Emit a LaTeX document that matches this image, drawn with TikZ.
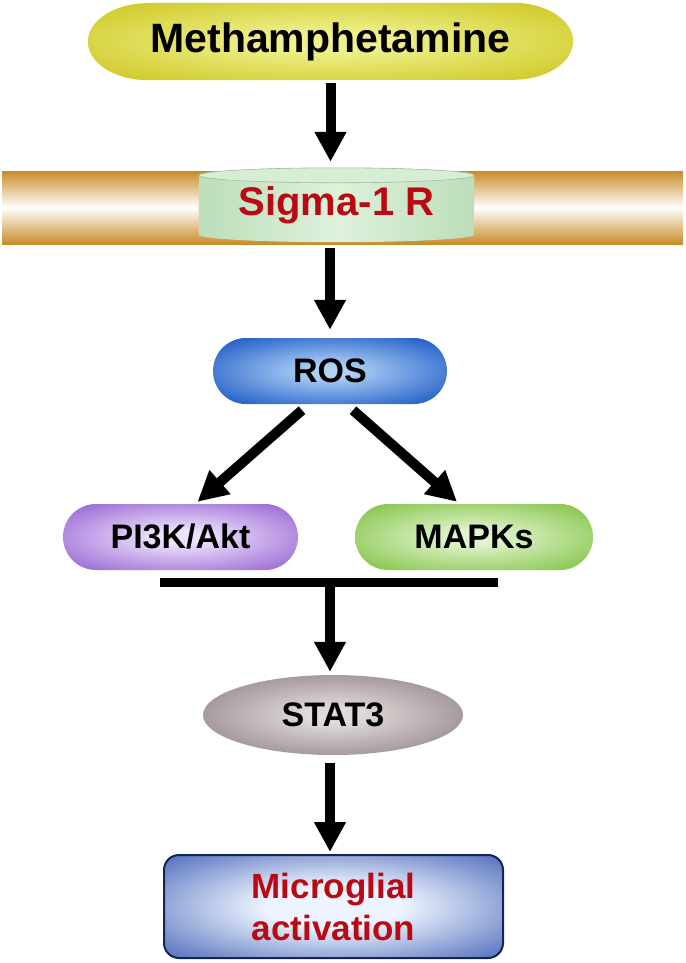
\documentclass[tikz,border=0pt]{standalone}
\usepackage{fontspec}
\setmainfont{Liberation Sans}
\usetikzlibrary{arrows.meta,shapes.geometric}

\definecolor{methin}{RGB}{240,240,140}
\definecolor{methout}{RGB}{205,200,35}
\definecolor{rosin}{RGB}{175,210,245}
\definecolor{rosout}{RGB}{35,95,200}
\definecolor{pikin}{RGB}{238,226,252}
\definecolor{pikout}{RGB}{150,100,210}
\definecolor{mapin}{RGB}{225,244,205}
\definecolor{mapout}{RGB}{130,195,70}
\definecolor{statin}{RGB}{225,218,218}
\definecolor{statout}{RGB}{140,125,128}
\definecolor{micin}{RGB}{238,244,255}
\definecolor{micout}{RGB}{40,75,170}
\definecolor{membrane}{RGB}{200,140,40}
\definecolor{sigside}{RGB}{188,222,185}
\definecolor{sigmid}{RGB}{222,241,220}
\definecolor{sigtop}{RGB}{215,238,212}
\definecolor{darkred}{RGB}{185,10,20}

\pgfdeclareradialshading{methglow}{\pgfpoint{0bp}{0bp}}{color(0bp)=(methin); color(6bp)=(methin); color(34bp)=(methout); color(50bp)=(methout)}
\pgfdeclareradialshading{rosglow}{\pgfpoint{0bp}{0bp}}{color(0bp)=(rosin); color(4bp)=(rosin); color(32bp)=(rosout); color(50bp)=(rosout)}
\pgfdeclareradialshading{pikglow}{\pgfpoint{0bp}{0bp}}{color(0bp)=(pikin); color(5bp)=(pikin); color(34bp)=(pikout); color(50bp)=(pikout)}
\pgfdeclareradialshading{mapglow}{\pgfpoint{0bp}{0bp}}{color(0bp)=(mapin); color(5bp)=(mapin); color(34bp)=(mapout); color(50bp)=(mapout)}
\pgfdeclareradialshading{statglow}{\pgfpoint{0bp}{0bp}}{color(0bp)=(statin); color(5bp)=(statin); color(34bp)=(statout); color(50bp)=(statout)}
\pgfdeclareradialshading{micglow}{\pgfpoint{0bp}{0bp}}{color(0bp)=(micin); color(10bp)=(micin); color(42bp)=(micout); color(50bp)=(micout!70!black)}

\pgfdeclarelayer{background}
\pgfsetlayers{background,main}

\begin{document}
\begin{tikzpicture}[x=1pt,y=1pt,
  arrow/.style={-{Triangle[length=30pt,width=30pt]},line width=10pt},
  pill/.style={rectangle,rounded corners=33pt,minimum height=66pt,inner sep=0pt,
    font=\fontsize{34}{40}\selectfont\bfseries}]

  \useasboundingbox (0,0) rectangle (685,-963);

  \node[minimum width=485pt,minimum height=77pt,inner sep=0pt,
    font=\fontsize{41}{48}\selectfont\bfseries] (meth) at (330.5,-41.5) {Methamphetamine};
  \node[minimum width=275pt,minimum height=74pt,inner sep=0pt,text=darkred,
    font=\fontsize{40}{48}\selectfont\bfseries] (sigma) at (336.5,-205) {Sigma-1 R};
  \node[pill,minimum width=234pt,shading=rosglow] (ros) at (330,-371) {ROS};
  \node[pill,minimum width=235pt,shading=pikglow] (pik) at (180.5,-537) {PI3K/Akt};
  \node[pill,minimum width=238pt,shading=mapglow] (mapk) at (474,-537) {MAPKs};
  \node[ellipse,minimum width=260pt,minimum height=80pt,inner sep=0pt,shading=statglow,
    font=\fontsize{34}{40}\selectfont\bfseries] (stat) at (333,-715) {STAT3};
  \node[rectangle,rounded corners=15pt,minimum width=339pt,minimum height=103pt,
    draw=micout!50!black,line width=2pt,shading=micglow,text=darkred,align=center,
    font=\fontsize{35}{42}\selectfont\bfseries] (micro) at (333.5,-906.5) {Microglial\\activation};

  \coordinate (barL) at (160,-582);
  \coordinate (barR) at (498,-582);
  \coordinate (bar) at (330,-582);

  % membrane, receptor and capsule behind the texts
  \begin{pgfonlayer}{background}
    \shade[shading=methglow] ([xshift=60pt]meth.north west) -- ([xshift=-60pt]meth.north east)
      arc[start angle=90,end angle=-90,x radius=60pt,y radius=38.5pt]
      -- ([xshift=60pt]meth.south west)
      arc[start angle=270,end angle=90,x radius=60pt,y radius=38.5pt] -- cycle;
    \shade[top color=membrane,bottom color=membrane,middle color=white] (2,-171) rectangle (683,-244);
    \shade[left color=sigside,right color=sigside,middle color=sigmid]
      ([yshift=-7.5pt]sigma.north west) -- ([yshift=7.5pt]sigma.south west)
      arc[start angle=180,end angle=360,x radius=137.5pt,y radius=7.5pt]
      -- ([yshift=-7.5pt]sigma.north east)
      arc[start angle=0,end angle=180,x radius=137.5pt,y radius=7.5pt] -- cycle;
    \filldraw[fill=sigtop,draw=sigside!85!black,line width=0.6pt]
      ([yshift=-7.5pt]sigma.north) ellipse[x radius=137.5pt,y radius=7.5pt];
  \end{pgfonlayer}

  \draw[arrow,shorten <=3pt,shorten >=6pt] (meth.south) -- (meth.south |- sigma.north);
  \draw[arrow,shorten <=6pt,shorten >=8pt] (ros.north |- sigma.south) -- (ros.north);
  \draw[arrow] ([xshift=-28pt,yshift=-6pt]ros.south) -- ([xshift=17pt,yshift=2pt]pik.north);
  \draw[arrow] ([xshift=23pt,yshift=-6pt]ros.south) -- ([xshift=-17pt,yshift=2pt]mapk.north);
  \draw[line width=9pt] (barL) -- (barR);
  \draw[arrow,shorten >=3pt] (bar) -- (bar |- stat.north);
  \draw[arrow,shorten <=8pt,shorten >=2pt] (bar |- stat.south) -- (bar |- micro.north);

\end{tikzpicture}
\end{document}
